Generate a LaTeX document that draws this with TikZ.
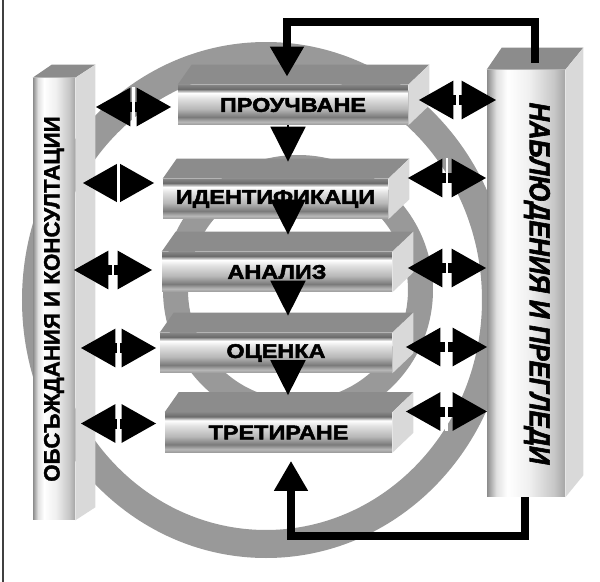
\documentclass[tikz,border=0pt]{standalone}
\usepackage{fontspec}
\setmainfont{Liberation Sans}
\newfontfamily\stagefont[FakeStretch=1.18,FakeBold=2.5]{Liberation Sans}
\newfontfamily\obsfont[FakeBold=1.5]{Liberation Sans}
\newfontfamily\nabfont[FakeStretch=0.88,FakeBold=2]{Liberation Sans}
\usetikzlibrary{arrows.meta}
\usetikzlibrary{calc}
\usetikzlibrary{decorations.markings}

\pgfdeclareverticalshading{stageshade}{100bp}{color(0bp)=(black!40); color(25bp)=(black!40); color(29bp)=(black!28); color(35bp)=(black!52); color(45bp)=(black!28); color(58bp)=(black!12); color(65bp)=(white); color(70bp)=(black!58); color(75bp)=(black!48); color(100bp)=(black!48)}
\pgfdeclarehorizontalshading{columnshade}{100bp}{color(0bp)=(black!45); color(25bp)=(black!45); color(31bp)=(black!12); color(38bp)=(white); color(52bp)=(black!6); color(68bp)=(black!22); color(75bp)=(black!35); color(100bp)=(black!35)}

\begin{document}
\begin{tikzpicture}[x=0.02cm, y=-0.02cm,
                stage/.style={shade, shading=stageshade, minimum height=0.8cm, inner sep=0pt, font=\stagefont\bfseries\fontsize{11.3}{12}\selectfont},
                column/.style={shade, shading=columnshade, inner sep=0pt},
                topface/.style={fill=black!45},
                sideface/.style={fill=black!15},
                ring/.style={fill=black!40, even odd rule},
                flow/.style={line width=1pt, -{Triangle[length=0.7cm,width=0.7cm]}},
                loopline/.style={line width=0.16cm, -{Triangle[length=0.6cm,width=0.64cm]}},
                dbl/.style={line width=0.2cm, {Triangle[length=0.7cm,width=0.72cm]}-{Triangle[length=0.7cm,width=0.72cm]}, postaction={decorate}, decoration={markings, mark=at position 0.5 with {\fill[white] (-0.025cm,-0.4cm) rectangle (0.025cm,0.4cm);}}},
                ]
                \useasboundingbox (0,0) rectangle (600,582);
                \draw[black!75, line width=0.04cm] (3,0) -- (3,582);

                \fill[ring] (266,300) ellipse [x radius=244, y radius=258] (266,300) ellipse [x radius=216, y radius=230];
                \fill[ring] (298,290) circle [radius=135] (298,290) circle [radius=110];

                \node[column, minimum width=0.84cm, minimum height=8.84cm] (obs) at (54,299) {};
                \node[column, minimum width=1.56cm, minimum height=8.54cm] (nab) at (526,283.5) {};
                \fill[topface] (obs.north west) -- ++(19,-13) -- ([shift={(20,-13)}]obs.north east) -- (obs.north east) -- cycle;
                \fill[sideface] (obs.north east) -- ++(20,-13) -- ([shift={(20,-13)}]obs.south east) -- (obs.south east) -- cycle;
                \fill[topface] (nab.north west) -- ++(15,-22) -- ([shift={(18,-22)}]nab.north east) -- (nab.north east) -- cycle;
                \fill[sideface] (nab.north east) -- ++(18,-22) -- ([shift={(18,-22)}]nab.south east) -- (nab.south east) -- cycle;
                \node[rotate=90, font=\obsfont\bfseries\fontsize{12.7}{14}\selectfont] (obstext) at (obs) {ОБСЪЖДАНИЯ И КОНСУЛТАЦИИ};
                \node[rotate=-90, font=\nabfont\bfseries\itshape\fontsize{16.5}{18}\selectfont] (nabtext) at ([xshift=0.22cm]nab.center) {НАБЛЮДЕНИЯ И ПРЕГЛЕДИ};

                \node[stage, minimum width=4.6cm] (p) at (293,105) {ПРОУЧВАНЕ};
                \node[stage, minimum width=4.5cm] (i) at (275.5,199) {ИДЕНТИФИКАЦИ};
                \node[stage, minimum width=4.6cm] (a) at (277,272) {АНАЛИЗ};
                \node[stage, minimum width=4.64cm] (o) at (276,353) {ОЦЕНКА};
                \node[stage, minimum width=4.54cm] (t) at (278.5,432.5) {ТРЕТИРАНЕ};

                \fill[topface] (p.north west) -- ++(14,-20) -- ([shift={(21,-20)}]p.north east) -- (p.north east) -- cycle;
                \fill[sideface] (p.north east) -- ++(21,-20) -- ([shift={(21,-20)}]p.south east) -- (p.south east) -- cycle;
                \fill[topface] (i.north west) -- ++(14,-20) -- ([shift={(21,-20)}]i.north east) -- (i.north east) -- cycle;
                \fill[sideface] (i.north east) -- ++(21,-20) -- ([shift={(21,-20)}]i.south east) -- (i.south east) -- cycle;
                \fill[topface] (a.north west) -- ++(14,-20) -- ([shift={(21,-20)}]a.north east) -- (a.north east) -- cycle;
                \fill[sideface] (a.north east) -- ++(21,-20) -- ([shift={(21,-20)}]a.south east) -- (a.south east) -- cycle;
                \fill[topface] (o.north west) -- ++(14,-20) -- ([shift={(21,-20)}]o.north east) -- (o.north east) -- cycle;
                \fill[sideface] (o.north east) -- ++(21,-20) -- ([shift={(21,-20)}]o.south east) -- (o.south east) -- cycle;
                \fill[topface] (t.north west) -- ++(14,-20) -- ([shift={(21,-20)}]t.north east) -- (t.north east) -- cycle;
                \fill[sideface] (t.north east) -- ++(21,-20) -- ([shift={(21,-20)}]t.south east) -- (t.south east) -- cycle;

                \coordinate (ax) at (288,0);
                \coordinate (c1) at (535,22);
                \coordinate (c2) at (287,22);
                \coordinate (c3) at (525,536);
                \coordinate (c4) at (291,536);

                \draw[flow, shorten >=0.34cm] (p.south -| ax) -- (i.north -| ax);
                \draw[flow, shorten >=0.34cm] (i.south -| ax) -- (a.north -| ax);
                \draw[flow, shorten >=0.34cm] (a.south -| ax) -- (o.north -| ax);
                \draw[flow, shorten >=0.34cm] (o.south -| ax) -- (t.north -| ax);

                \draw[loopline, shorten <=0.14cm, shorten >=0.16cm] (c1 |- nab.north) -- (c1) -- (c2) -- (c2 |- p.north);
                \draw[loopline, shorten >=0.16cm] (c3 |- nab.south) -- (c3) -- (c4) -- (c4 |- t.south);

                \draw[dbl] ($(obs.east |- p.west)+(20,2)$) -- ($(p.west)+(-6,2)$);
                \draw[dbl] ($(obs.east |- i.west)+(7,-16)$) -- ($(i.west)+(-8,-16)$);
                \draw[dbl] ($(obs.east |- a.west)+(-2,-2)$) -- ($(a.west)+(-9,-2)$);
                \draw[dbl] ($(obs.east |- o.west)+(5,-5)$) -- ($(o.west)+(-3,-5)$);
                \draw[dbl] ($(obs.east |- t.west)+(5,-9)$) -- ($(t.west)+(-8,-9)$);
                \draw[dbl] ($(p.east)+(10,-5)$) -- ($(nab.west |- p.east)+(10,-5)$);
                \draw[dbl] ($(i.east)+(19,-21)$) -- ($(nab.west |- i.east)+(0,-21)$);
                \draw[dbl] ($(a.east)+(15,-4)$) -- ($(nab.west |- a.east)+(0,-4)$);
                \draw[dbl] ($(o.east)+(13,-6)$) -- ($(nab.west |- o.east)+(1,-6)$);
                \draw[dbl] ($(t.east)+(13,-21)$) -- ($(nab.west |- t.east)+(1,-21)$);
            \end{tikzpicture}
\end{document}
